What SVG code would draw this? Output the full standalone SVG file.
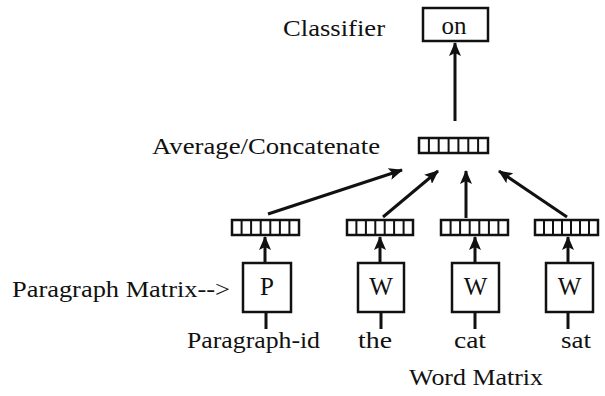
<svg xmlns="http://www.w3.org/2000/svg" width="605" height="396" viewBox="0 0 605 396">
<defs>
<marker id="ah" markerUnits="userSpaceOnUse" markerWidth="14" markerHeight="12" refX="13" refY="6" orient="auto">
<path d="M0,0 L14,6 L0,12 L3,6 Z" fill="#111"/>
</marker>
</defs>
<style>
text{font-family:"Liberation Serif","Times New Roman",Times,serif;fill:#111}
.lbl{font-size:24px}
.box{fill:#fff;stroke:#111;stroke-width:2.5}
.vec{fill:#fff;stroke:#111;stroke-width:2.5}
.cell{stroke:#111;stroke-width:2}
.ln{stroke:#111;stroke-width:3;fill:none}
.arr{stroke:#111;stroke-width:3;fill:none;marker-end:url(#ah)}
.in{font-size:25px;text-anchor:middle}
</style>
<rect width="605" height="396" fill="#fff"/>

<g id="labels" font-family="Liberation Serif, Times New Roman, serif">
<text class="lbl" x="283" y="36" textLength="102" lengthAdjust="spacingAndGlyphs">Classifier</text>
<text class="lbl" x="152" y="154" textLength="228" lengthAdjust="spacingAndGlyphs">Average/Concatenate</text>
<text class="lbl" x="12" y="297" textLength="218" lengthAdjust="spacingAndGlyphs">Paragraph Matrix--&gt;</text>
<text class="lbl" x="187" y="348" textLength="133" lengthAdjust="spacingAndGlyphs">Paragraph-id</text>
<text class="lbl" x="358" y="348" textLength="34" lengthAdjust="spacingAndGlyphs">the</text>
<text class="lbl" x="454" y="348" textLength="32" lengthAdjust="spacingAndGlyphs">cat</text>
<text class="lbl" x="561" y="348" textLength="30" lengthAdjust="spacingAndGlyphs">sat</text>
<text class="lbl" x="409" y="385" textLength="134" lengthAdjust="spacingAndGlyphs">Word Matrix</text>
</g>

<g id="connectors">
<line class="arr" x1="455" y1="121" x2="455" y2="43"/>
<line class="arr" x1="268" y1="214" x2="402" y2="170"/>
<line class="arr" x1="383" y1="217" x2="438" y2="171"/>
<line class="arr" x1="466" y1="218" x2="466" y2="171"/>
<line class="arr" x1="567" y1="217" x2="499" y2="171"/>
<line class="arr" x1="265" y1="263" x2="265" y2="237"/>
<line class="arr" x1="380" y1="263" x2="380" y2="237"/>
<line class="arr" x1="475" y1="263" x2="475" y2="237"/>
<line class="arr" x1="568" y1="263" x2="568" y2="237"/>
<line class="ln" x1="266" y1="312" x2="266" y2="329"/>
<line class="ln" x1="381" y1="312" x2="381" y2="329"/>
<line class="ln" x1="475" y1="312" x2="475" y2="329"/>
<line class="ln" x1="568" y1="312" x2="568" y2="329"/>
</g>

<g id="classifier">
<rect class="box" x="423" y="8" width="65" height="33"/>
<text class="in" x="454" y="34">on</text>
</g>

<g id="avg-vector">
<rect class="vec" x="419" y="138" width="69" height="15"/>
<path class="cell" d="M428.9,138V153M438.7,138V153M448.6,138V153M458.4,138V153M468.3,138V153M478.1,138V153"/>
</g>

<g id="vec-p">
<rect class="vec" x="232" y="220" width="67" height="15"/>
<path class="cell" d="M241.6,220V235M251.1,220V235M260.7,220V235M270.3,220V235M279.9,220V235M289.4,220V235"/>
</g>
<g id="vec-the">
<rect class="vec" x="347" y="220" width="66" height="15"/>
<path class="cell" d="M356.4,220V235M365.9,220V235M375.3,220V235M384.7,220V235M394.1,220V235M403.6,220V235"/>
</g>
<g id="vec-cat">
<rect class="vec" x="441" y="220" width="67" height="15"/>
<path class="cell" d="M450.6,220V235M460.1,220V235M469.7,220V235M479.3,220V235M488.9,220V235M498.4,220V235"/>
</g>
<g id="vec-sat">
<rect class="vec" x="535" y="220" width="63" height="15"/>
<path class="cell" d="M544,220V235M553,220V235M562,220V235M571,220V235M580,220V235M589,220V235"/>
</g>

<g id="box-p">
<rect class="box" x="243" y="263" width="48" height="49"/>
<text class="in" x="267" y="295">P</text>
</g>
<g id="box-w1">
<rect class="box" x="358" y="263" width="46" height="49"/>
<text class="in" x="381" y="295">W</text>
</g>
<g id="box-w2">
<rect class="box" x="452" y="263" width="47" height="49"/>
<text class="in" x="475.5" y="295">W</text>
</g>
<g id="box-w3">
<rect class="box" x="546" y="263" width="47" height="49"/>
<text class="in" x="569.5" y="295">W</text>
</g>
</svg>
